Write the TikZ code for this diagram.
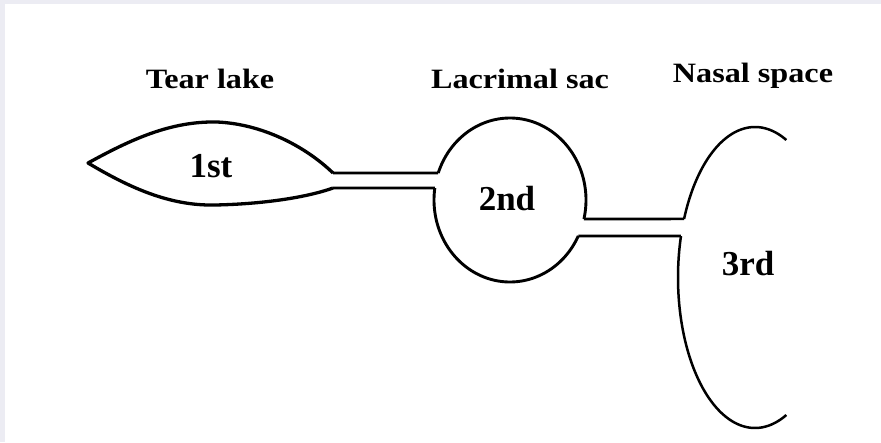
\documentclass[tikz,border=0pt]{standalone}
\usepackage{fontspec}
\setmainfont{Liberation Serif}
\definecolor{frame}{HTML}{ECECF3}
\tikzset{
  heading/.style={font=\bfseries\fontsize{28}{30}\selectfont, anchor=base, inner sep=0pt, xscale=1.15},
  stage/.style={font=\bfseries\fontsize{35}{38}\selectfont, anchor=base, inner sep=0pt},
  wall/.style={line width=2.9pt, line join=round},
  duct/.style={line width=2.6pt}
}
\begin{document}
\begin{tikzpicture}[x=1pt,y=-1pt]
  % page: lavender edge on the left and top, white field
  \fill[frame] (0,0) rectangle (881,442);
  \fill[white] (5,4) rectangle (881,442);
  \useasboundingbox (0,0) rectangle (881,442);

  % headings
  \node[heading] (hTear) at (210,88) {Tear lake};
  \node[heading] (hSac)  at (520,88) {Lacrimal sac};
  \node[heading] (hNose) at (753,82) {Nasal space};

  % tear lake: pointed lens
  \coordinate (lensTip) at (88,163);
  \coordinate (lensU)   at (333,173);
  \coordinate (lensL)   at (333,188);
  \draw[wall, line width=3.3pt]
    (lensU) .. controls (305,146) and (262,124) .. (217,122)
            .. controls (170,121) and (130,140) .. (lensTip)
            .. controls (130,188) and (170,206) .. (215,205)
            .. controls (265,204) and (308,197) .. (lensL);

  % lacrimal sac: ellipse centred (510,200), radii 76 x 82, open at both ducts
  \coordinate (sacU1) at ({510+76*cos(199.22)},{200+82*sin(199.22)});
  \coordinate (sacL1) at ({510+76*cos(188.41)},{200+82*sin(188.41)});
  \coordinate (sacU2) at ({510+76*cos(13.4)},{200+82*sin(13.4)});
  \coordinate (sacL2) at ({510+76*cos(26)},{200+82*sin(26)});
  \draw[wall] plot[domain=199.22:373.4, samples=80, smooth]
    ({510+76*cos(\x)},{200+82*sin(\x)});
  \draw[wall] plot[domain=26:188.41, samples=80, smooth]
    ({510+76*cos(\x)},{200+82*sin(\x)});

  % nasal space: open ellipse centred (755,277.5), radii 77 x 150.5
  \coordinate (nosU) at ({755+77*cos(202.9)},{277.5+150.5*sin(202.9)});
  \coordinate (nosL) at ({755+77*cos(196)},{277.5+150.5*sin(196)});
  \draw[wall, line width=2.5pt] plot[domain=202.9:294, samples=80, smooth]
    ({755+77*cos(\x)},{277.5+150.5*sin(\x)});
  \draw[wall, line width=2.5pt] plot[domain=66:196, samples=100, smooth]
    ({755+77*cos(\x)},{277.5+150.5*sin(\x)});

  % ducts
  \draw[duct] (lensU) -- (sacU1);
  \draw[duct] (lensL) -- (sacL1);
  \draw[duct] (sacU2) -- (nosU);
  \draw[duct] (sacL2) -- (nosL);

  % stage labels
  \node[stage] (s1) at (211,177) {1st};
  \node[stage] (s2) at (507,210) {2nd};
  \node[stage] (s3) at (748,275) {3rd};
\end{tikzpicture}
\end{document}
